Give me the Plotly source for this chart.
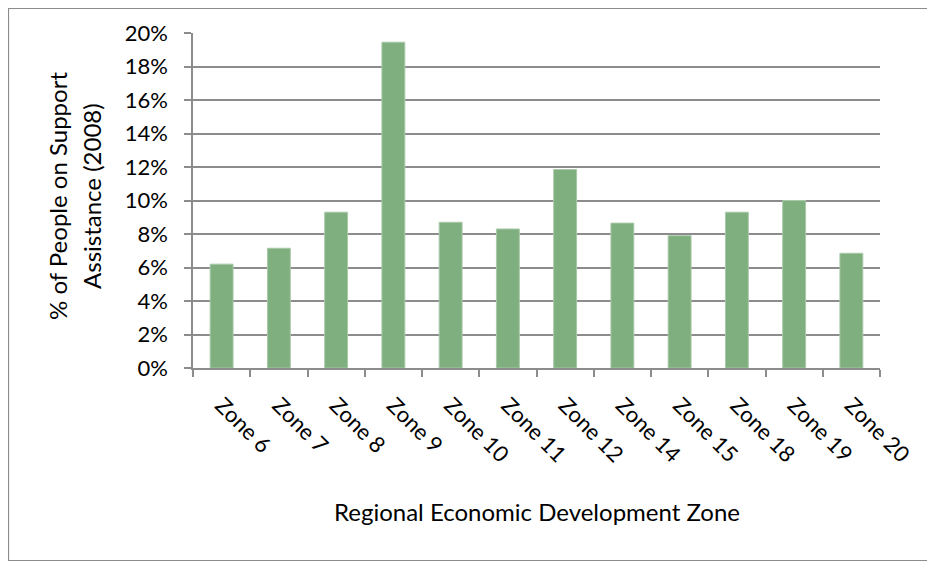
import plotly.graph_objects as go

zones = ["Zone 6", "Zone 7", "Zone 8", "Zone 9", "Zone 10", "Zone 11", "Zone 12",
         "Zone 14", "Zone 15", "Zone 18", "Zone 19", "Zone 20"]
pct = [6.2, 7.15, 9.3, 19.45, 8.7, 8.3, 11.85, 8.65, 7.9, 9.3, 10.0, 6.85]
pct_frac = [v / 100 for v in pct]
y_ticks = [i / 100 for i in range(0, 21, 2)]
x_title = "Regional Economic Development Zone"
y_title_lines = ["% of People on Support", "Assistance (2008)"]

# the page body adds an 8px offset; lay out in figure coordinates
OFF = 8
W, H = 935 - OFF, 563 - OFF
L, T = 193 - OFF, 33 - OFF
R = W - (880 - OFF)
B = H - (368 - OFF)
pw, ph = W - L - R, H - T - B

FONT = "Lato"
GRID = "#8c8c8c"


def sx(px):  # screen px -> paper x
    return (px - OFF - L) / pw


def sy(py):  # screen px -> paper y
    return (H - B - (py - OFF)) / ph


fig = go.Figure(go.Bar(
    x=zones, y=pct_frac,
    marker=dict(color="#7fae7f", line=dict(width=1, color="#a9c9a9")),
    width=0.4,
))

fig.update_layout(
    width=W, height=H,
    margin=dict(l=L, r=R, t=T, b=B, autoexpand=False),
    paper_bgcolor="white", plot_bgcolor="white",
    font=dict(family=FONT, size=20, color="#000000"),
    showlegend=False,
    xaxis=dict(
        type="category",
        automargin=False,
        tickangle=45,
        showline=True, linecolor=GRID, linewidth=1.5,
        ticks="outside", tickson="boundaries", ticklen=7, tickcolor=GRID, tickwidth=1.5,
        showgrid=False,
        tickfont=dict(family=FONT, size=22),
        ticklabelstandoff=14,
    ),
    yaxis=dict(
        automargin=False,
        range=[0, 0.2], tickvals=y_ticks,
        tickformat=".0%",
        showline=True, linecolor=GRID, linewidth=1.5,
        ticks="outside", ticklen=7, tickcolor=GRID, tickwidth=1.5,
        showgrid=True, gridcolor=GRID, gridwidth=1.5,
        zeroline=False,
        tickfont=dict(family=FONT, size=22),
        ticklabelstandoff=12,
    ),
    annotations=[
        dict(text=x_title, xref="paper", yref="paper", x=sx(537), y=sy(511),
             xanchor="center", yanchor="middle", showarrow=False,
             font=dict(family=FONT, size=24)),
        dict(text=y_title_lines[0], xref="paper", yref="paper", x=sx(57), y=sy(196),
             xanchor="center", yanchor="middle", showarrow=False, textangle=-90,
             font=dict(family=FONT, size=24)),
        dict(text=y_title_lines[1], xref="paper", yref="paper", x=sx(91), y=sy(196),
             xanchor="center", yanchor="middle", showarrow=False, textangle=-90,
             font=dict(family=FONT, size=24)),
    ],
    shapes=[dict(
        type="rect", xref="paper", yref="paper",
        x0=(0.5 - L) / pw, x1=sx(932.5),
        y0=sy(560.5), y1=(H - B - 0.5) / ph,
        line=dict(color="#8c8c8c", width=1.2), fillcolor="rgba(0,0,0,0)",
        layer="below",
    )],
)

fig.write_html("out.html")
